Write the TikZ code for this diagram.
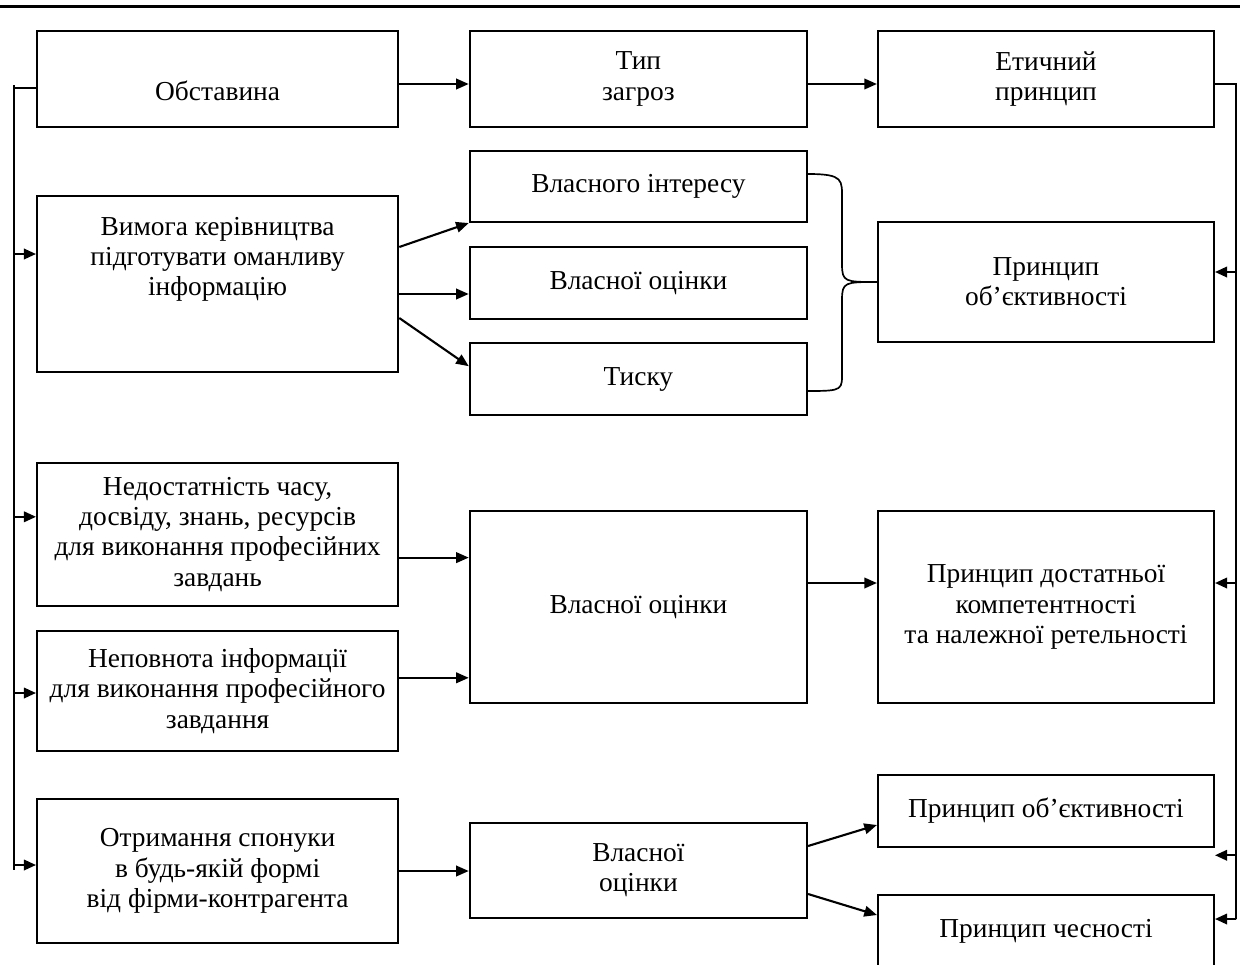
\documentclass[tikz,border=0pt]{standalone}
\usepackage{fontspec}
\setmainfont{Liberation Serif}
\usetikzlibrary{arrows.meta}

\begin{document}
\begin{tikzpicture}[x=1cm,y=1cm,
    txt/.style={align=center, font=\fontsize{19.5}{21.5}\selectfont},
    box/.style={draw, line width=1.5pt, txt},
    arr/.style={-{Triangle[length=9pt,width=7.5pt]}, line width=1.5pt},
    bus/.style={line width=1.2pt},
    busarr/.style={-{Triangle[length=8.5pt,width=7.5pt]}, line width=1.2pt}]
    \clip (0,0) rectangle (31,-24.1);
    \draw[line width=2pt] (0,-0.16) -- (31,-0.16);

    % top row
    \node[box, minimum width=9.03cm, minimum height=2.4cm] (obst) at (5.44,-1.975) {};
    \node[txt] (obsttxt) at ([yshift=-0.3cm]obst.center) {Обставина};
    \node[box, minimum width=8.43cm, minimum height=2.4cm] (typ) at (15.96,-1.975) {Тип\\загроз};
    \node[box, minimum width=8.4cm, minimum height=2.4cm] (etych) at (26.15,-1.975) {Етичний\\принцип};

    % second block
    \node[box, minimum width=9.03cm, minimum height=4.4cm] (vymoha) at (5.44,-7.1) {};
    \node[txt] (vymohatxt) at ([yshift=0.62cm]vymoha.center) {Вимога керівництва\\підготувати оманливу\\інформацію};
    \node[box, minimum width=8.43cm, minimum height=1.78cm] (vlint) at (15.96,-4.66) {Власного інтересу};
    \node[box, minimum width=8.43cm, minimum height=1.8cm] (vlocin1) at (15.96,-7.075) {Власної оцінки};
    \node[box, minimum width=8.43cm, minimum height=1.8cm] (tysk) at (15.96,-9.475) {Тиску};
    \node[box, minimum width=8.4cm, minimum height=3.0cm] (obj1) at (26.15,-7.05) {Принцип\\об’єктивності};

    % third block
    \node[box, minimum width=9.03cm, minimum height=3.58cm] (nedost) at (5.44,-13.36) {Недостатність часу,\\досвіду, знань, ресурсів\\для виконання професійних\\завдань};
    \node[box, minimum width=9.03cm, minimum height=3.0cm] (nepovn) at (5.44,-17.275) {Неповнота інформації\\для виконання професійного\\завдання};
    \node[box, minimum width=8.43cm, minimum height=4.8cm] (vlocin2) at (15.96,-15.175) {Власної оцінки};
    \node[box, minimum width=8.4cm, minimum height=4.8cm] (dostat) at (26.15,-15.175) {Принцип достатньої\\компетентності\\та належної ретельності};

    % fourth block
    \node[box, minimum width=9.03cm, minimum height=3.6cm] (otrym) at (5.44,-21.775) {Отримання спонуки\\в будь-якій формі\\від фірми-контрагента};
    \node[box, minimum width=8.43cm, minimum height=2.38cm] (vlocin3) at (15.96,-21.76) {Власної\\оцінки};
    \node[box, minimum width=8.4cm, minimum height=1.8cm] (obj2) at (26.15,-20.275) {Принцип об’єктивності};
    \node[box, minimum width=8.4cm, minimum height=1.8cm] (chesn) at (26.15,-23.275) {Принцип чесності};

    \draw[arr] ([yshift=-0.125cm]obst.east) -- ([yshift=-0.125cm]typ.west);
    \draw[arr] ([yshift=-0.125cm]typ.east) -- ([yshift=-0.125cm]etych.west);

    % left bus
    \coordinate (lbtop) at (0.35,-2.125);
    \coordinate (lbbot) at (0.35,-21.75);
    \draw[bus] (lbtop) -- (lbbot);
    \draw[bus] ([yshift=-0.225cm]obst.west -| lbtop) -- ([yshift=-0.225cm]obst.west);
    \draw[busarr] ([yshift=0.75cm]vymoha.west -| lbtop) -- ([yshift=0.75cm]vymoha.west);
    \draw[busarr] ([yshift=0.44cm]nedost.west -| lbtop) -- ([yshift=0.44cm]nedost.west);
    \draw[busarr] ([yshift=-0.05cm]nepovn.west -| lbtop) -- ([yshift=-0.05cm]nepovn.west);
    \draw[busarr] ([yshift=0.15cm]otrym.west -| lbtop) -- ([yshift=0.15cm]otrym.west);

    % right bus
    \coordinate (rbtop) at (30.9,-2.1);
    \coordinate (rbbot) at (30.9,-22.975);
    \draw[bus] ([yshift=-0.125cm]etych.east) -- (rbtop) -- (rbbot);
    \draw[busarr] ([yshift=0.25cm]obj1.east -| rbtop) -- ([yshift=0.25cm]obj1.east);
    \draw[busarr] ([yshift=0.6cm]dostat.east -| rbtop) -- ([yshift=0.6cm]dostat.east);
    \draw[busarr] ([yshift=-0.18cm]obj2.south east -| rbtop) -- ([yshift=-0.18cm]obj2.south east);
    \draw[busarr] (rbbot) -- ([yshift=0.3cm]chesn.east);

    \draw[arr] ([yshift=0.925cm]vymoha.east) -- (vlint.south west);
    \draw[arr] ([yshift=-0.25cm]vymoha.east) -- ([yshift=-0.25cm]vymoha.east -| vlocin1.west);
    \draw[arr] ([yshift=-0.85cm]vymoha.east) -- ([yshift=0.32cm]tysk.west);

    % brace
    \draw[bus] ([yshift=0.31cm]vlint.east) .. controls +(0.9,0) and +(0,0.5) .. (21.05,-5.0)
        -- (21.05,-6.6) .. controls +(0,-0.45) and +(-0.8,0) .. (obj1.west)
        .. controls +(-0.8,0) and +(0,0.45) .. (21.05,-7.5)
        -- (21.05,-9.25) .. controls +(0,-0.5) and +(0.9,0) .. ([yshift=-0.3cm]tysk.east);

    \draw[arr] ([yshift=-0.58cm]nedost.east) -- ([yshift=-0.58cm]nedost.east -| vlocin2.west);
    \draw[arr] ([yshift=0.33cm]nepovn.east) -- ([yshift=0.33cm]nepovn.east -| vlocin2.west);
    \draw[arr] ([yshift=0.6cm]vlocin2.east) -- ([yshift=0.6cm]dostat.west);

    \draw[arr] (otrym.east) -- (otrym.east -| vlocin3.west);
    \draw[arr] ([yshift=0.61cm]vlocin3.east) -- ([yshift=-0.35cm]obj2.west);
    \draw[arr] ([yshift=-0.59cm]vlocin3.east) -- ([yshift=0.4cm]chesn.west);
\end{tikzpicture}
\end{document}
